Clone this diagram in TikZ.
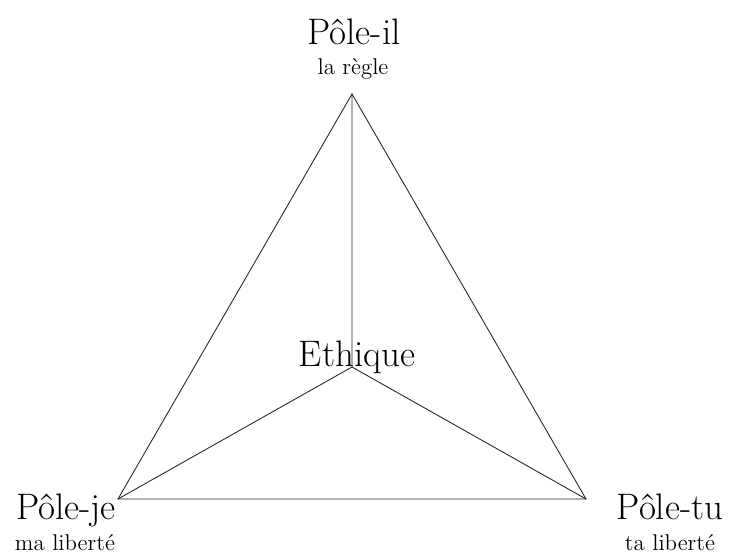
\documentclass[tikz,border=0pt]{standalone}
\usepackage{fontspec}
\usepackage{tikz}
\usetikzlibrary{positioning}
\tikzset{
  pole/.style={anchor=base,inner sep=0pt,font=\fontsize{21}{25}\selectfont},
  sub/.style={anchor=base,inner sep=0pt,font=\fontsize{13}{15}\selectfont},
  edgeline/.style={line width=0.5pt,black!85},
}

\begin{document}
\begin{tikzpicture}[x=0.02cm,y=-0.02cm]
  \useasboundingbox (0,0) rectangle (731,557);
  \coordinate (il) at (352,94);
  \coordinate (je) at (118,499);
  \coordinate (tu) at (586,499);
  \coordinate (eth) at (352,367);
  \node[pole] (pil)  at (354,45)  {Pôle-il};
  \node[sub]  (sil)  at (353,75)  {la règle};
  \node[pole] (peth) at (357,367) {Ethique};
  \node[pole] (pje)  at (66,520)  {Pôle-je};
  \node[sub]  (sje)  at (65,550)  {ma liberté};
  \node[pole] (ptu)  at (670,520) {Pôle-tu};
  \node[sub]  (stu)  at (670,550) {ta liberté};
  \draw[edgeline] (il) -- (je) -- (tu) -- cycle;
  \draw[edgeline] (eth) -- (il)
                  (eth) -- (je)
                  (eth) -- (tu);
\end{tikzpicture}
\end{document}
